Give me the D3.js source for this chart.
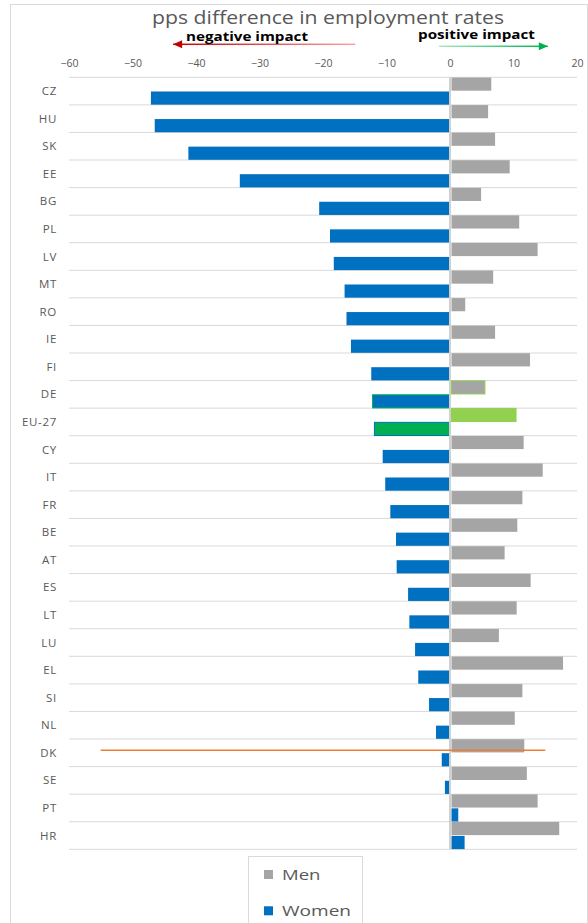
<!DOCTYPE html>
<html>
<head>
<meta charset="utf-8">
<script src="https://cdn.jsdelivr.net/npm/d3@7/dist/d3.min.js"></script>
<style>
  html, body { margin: 0; padding: 0; background: #fff; }
  svg { display: block; font-family: "Open Sans", "Noto Sans", sans-serif; }
</style>
</head>
<body>
<svg id="chart" width="588" height="923"></svg>
<script>
// Countries, top to bottom
const categories = ["CZ","HU","SK","EE","BG","PL","LV","MT","RO","IE","FI","DE","EU-27","CY","IT","FR","BE","AT","ES","LT","LU","EL","SI","NL","DK","SE","PT","HR"];
// pps difference in employment rates
const men   = [6.5, 6.0, 7.1, 9.4, 4.9, 10.9, 13.8, 6.8, 2.4, 7.1, 12.6, 5.5, 10.4, 11.6, 14.6, 11.4, 10.6, 8.6, 12.7, 10.5, 7.7, 17.8, 11.4, 10.2, 11.7, 12.1, 13.8, 17.2];
const women = [-47.1, -46.5, -41.2, -33.1, -20.6, -18.9, -18.3, -16.6, -16.3, -15.6, -12.4, -12.2, -11.9, -10.6, -10.2, -9.4, -8.5, -8.4, -6.6, -6.4, -5.5, -5.0, -3.3, -2.2, -1.3, -0.8, 1.3, 2.3];
const xTicks = [-60, -50, -40, -30, -20, -10, 0, 10, 20];
const seriesNames = ["Men", "Women"];
// horizontal marker line drawn across the DK row
const markerLine = { category: "DK", from: -55, to: 15 };
// impact arrows (value span along the axis)
const negArrow = { label: "negative impact", from: -14.9, to: -43.6 };
const posArrow = { label: "positive impact", from: -1.7, to: 15.4 };

const colors = { Men: "#A5A5A5", Women: "#0070C0" };
const highlightFill = { "EU-27": { Men: "#92D050", Women: "#00B050" } };
const highlightStroke = { "DE": { Men: "#92D050", Women: "#00B050" }, "EU-27": { Men: "#92D050", Women: "#0070C0" } };

const svg = d3.select("#chart");
const W = 588, H = 923;

// outer chart frame
svg.append("rect").attr("x", 10.5).attr("y", 4.5).attr("width", W - 11).attr("height", H)
  .attr("fill", "#fff").attr("stroke", "#D9D9D9").attr("stroke-width", 1);

const x = d3.scaleLinear().domain([-60, 20]).range([69, 577]);
const y = d3.scaleBand().domain(categories).range([77.3, 849.3]).padding(0);
const bw = y.bandwidth();

// title
svg.append("text").attr("x", 152).attr("y", 23.5)
  .attr("fill", "#595959").style("font-size", "18px")
  .attr("textLength", 352).attr("lengthAdjust", "spacingAndGlyphs")
  .text("pps difference in employment rates");

// gridlines (category boundaries)
const gridYs = categories.map(c => y(c)).concat([y.range()[1]]);
svg.append("g").selectAll("line").data(gridYs).join("line")
  .attr("x1", x.range()[0]).attr("x2", x.range()[1])
  .attr("y1", d => d).attr("y2", d => d)
  .attr("stroke", "#D9D9D9").attr("stroke-width", 1);

// x axis labels along the top
const xAxis = d3.axisTop(x).tickValues(xTicks).tickSize(0).tickPadding(0).tickFormat(d3.format("d"));
const gx = svg.append("g").attr("transform", "translate(0,67)").call(xAxis);
gx.select(".domain").remove();
gx.selectAll("text").attr("fill", "#595959").style("font-size", "10.5px")
  .style("font-family", "\"Open Sans\", sans-serif").attr("dy", "0");

// category labels
svg.append("g").selectAll("text").data(categories).join("text")
  .attr("x", 57).attr("y", d => y(d) + bw / 2).attr("dy", "0.35em")
  .attr("text-anchor", "end").attr("fill", "#595959")
  .style("font-size", "11.5px").style("letter-spacing", "0.7px").text(d => d);

// bars: men in the upper half of each row, women in the lower half
const rows = [];
categories.forEach((c, i) => {
  rows.push({ c, s: "Men", v: men[i], y0: y(c) + 0.2, h: bw / 2 - 0.6 });
  rows.push({ c, s: "Women", v: women[i], y0: y(c) + bw / 2 + 0.4, h: bw / 2 - 0.6 });
});
svg.append("g").selectAll("rect").data(rows).join("rect")
  .attr("x", d => x(Math.min(0, d.v)) + (d.v >= 0 ? 1.5 : 0))
  .attr("width", d => Math.abs(x(d.v) - x(0)) - (d.v >= 0 ? 1.5 : 0))
  .attr("y", d => d.y0).attr("height", d => d.h)
  .attr("fill", d => (highlightFill[d.c] && highlightFill[d.c][d.s]) || colors[d.s])
  .attr("stroke", d => (highlightStroke[d.c] && highlightStroke[d.c][d.s]) || "none")
  .attr("stroke-width", 1);

// zero line
svg.append("line").attr("x1", x(0)).attr("x2", x(0))
  .attr("y1", y.range()[0]).attr("y2", y.range()[1])
  .attr("stroke", "#D0D0D0").attr("stroke-width", 2);

// marker line across the DK row
svg.append("line")
  .attr("x1", x(markerLine.from)).attr("x2", x(markerLine.to))
  .attr("y1", y(markerLine.category) + bw * 0.41).attr("y2", y(markerLine.category) + bw * 0.41)
  .attr("stroke", "#ED7D31").attr("stroke-width", 1.5);

// impact arrows
const defs = svg.append("defs");
function gradient(id, c0, c1) {
  const g = defs.append("linearGradient").attr("id", id);
  g.append("stop").attr("offset", "0%").attr("stop-color", c0);
  g.append("stop").attr("offset", "100%").attr("stop-color", c1);
}
gradient("gNeg", "#C00000", "#F4A6A6");
gradient("gPos", "#A8E6C2", "#00B050");

function arrow(a, yy, gradId, headColor) {
  const x0 = x(a.from), x1 = x(a.to);
  const dir = Math.sign(x1 - x0);
  const lx = Math.min(x0, x1), rx = Math.max(x0, x1);
  svg.append("rect").attr("x", lx).attr("y", yy - 0.75).attr("width", rx - lx).attr("height", 1.5)
    .attr("fill", `url(#${gradId})`);
  svg.append("path")
    .attr("d", `M${x1},${yy} L${x1 - dir * 9},${yy - 4} L${x1 - dir * 9},${yy + 4} Z`)
    .attr("fill", headColor);
}
arrow(negArrow, 44.3, "gNeg", "#C00000");
arrow(posArrow, 46.3, "gPos", "#00B050");

svg.append("text").attr("x", 186).attr("y", 41).attr("fill", "#000")
  .style("font-size", "12px").style("font-weight", "bold")
  .attr("textLength", 122).attr("lengthAdjust", "spacingAndGlyphs").text(negArrow.label);
svg.append("text").attr("x", 418).attr("y", 39).attr("fill", "#000")
  .style("font-size", "12.5px").style("font-weight", "bold")
  .attr("textLength", 117).attr("lengthAdjust", "spacingAndGlyphs").text(posArrow.label);

// legend
const legendWidths = { Men: 38.5, Women: 69 };
const lg = svg.append("g");
lg.append("rect").attr("x", 248.5).attr("y", 856.5).attr("width", 114).attr("height", 80)
  .attr("fill", "#fff").attr("stroke", "#D9D9D9");
seriesNames.forEach((s, i) => {
  const cy = 874.5 + i * 36.3;
  lg.append("rect").attr("x", 264).attr("y", cy - 4.5).attr("width", 9).attr("height", 9).attr("fill", colors[s]);
  lg.append("text").attr("x", 282).attr("y", cy).attr("dy", "0.36em").attr("fill", "#595959")
    .style("font-size", "14.5px")
    .attr("textLength", legendWidths[s]).attr("lengthAdjust", "spacingAndGlyphs").text(s);
});
</script>
</body>
</html>
